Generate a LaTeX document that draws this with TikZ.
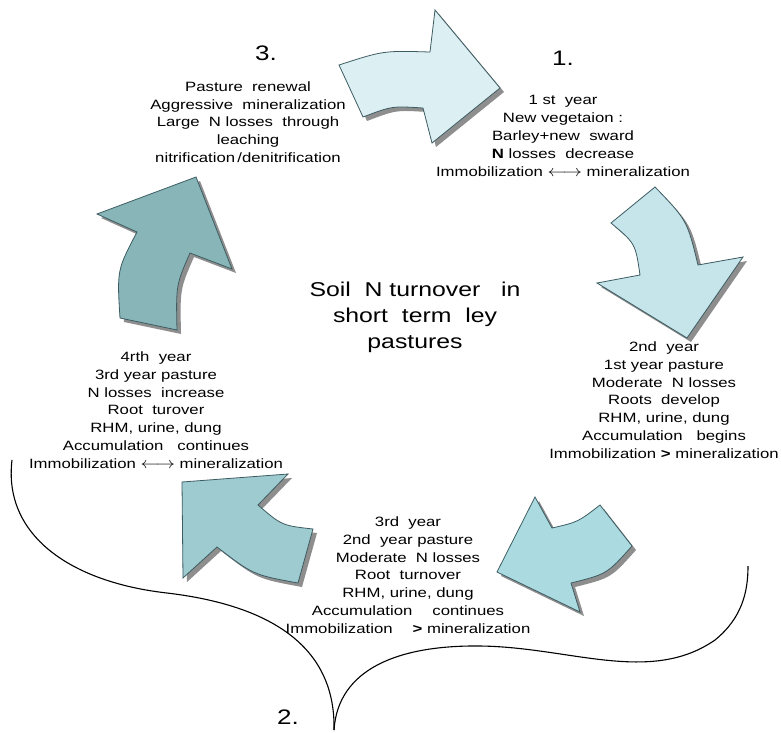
\documentclass[tikz,border=0pt]{standalone}
\usepackage{fontspec}
\setmainfont{Liberation Sans}[FakeStretch=1.24]
\usepackage{graphicx}
\newcommand{\lrarr}{\scalebox{1.3}[1.1]{$\longleftrightarrow$}}
\definecolor{arrline}{HTML}{3D5C62}
\definecolor{shadowgray}{HTML}{8E8E8E}
\definecolor{cA}{HTML}{DCEFF3}
\definecolor{cB}{HTML}{C6E5EA}
\definecolor{cC}{HTML}{ABDBE1}
\definecolor{cD}{HTML}{9DCBCF}
\definecolor{cE}{HTML}{88B6B8}
\def\Aone{(339,65) .. controls (383.4,50.6) .. (430,52) -- (435,10) -- (500,88) -- (432,143) -- (423,108) .. controls (392,106) .. (363,117) -- cycle}
\def\Atwo{(655,187) -- (611,223) .. controls (635.4,243.5) .. (640,275) -- (597,283) -- (687,338) -- (743,257) -- (698,265) .. controls (687,220.2) .. (655,187) -- cycle}
\def\Athree{(600,505) .. controls (578,522) .. (552,528) -- (535,497) -- (497,572) -- (580,612) -- (571,583) .. controls (607,574) .. (632,546) -- cycle}
\def\Afour{(182,482) -- (288,474) -- (258,505) .. controls (281.8,525.5) .. (313,529) -- (298,583) .. controls (253.2,574.8) .. (217,547) -- (183,578) -- cycle}
\def\Afive{(97,214) -- (196,177) -- (232,269) -- (190,253) .. controls (176,285) .. (177,330) -- (120,318) .. controls (117,270) .. (137,232) -- cycle}
\begin{document}
\begin{tikzpicture}[x=1pt,y=-1pt,
  arr/.style={draw=arrline,line width=0.8pt,line join=miter},
  shad/.style={fill=shadowgray,draw=none,shift={(4,4)}},
  txt/.style={align=center,inner sep=0pt,font=\fontsize{13.5}{17.8}\selectfont},
  ttl/.style={align=center,inner sep=0pt,font=\fontsize{20}{26}\selectfont},
  num/.style={inner sep=0pt,font=\fontsize{21}{25}\selectfont}]
\useasboundingbox (0,0) rectangle (781,732);
% shadows
\fill[shad] \Aone;
\fill[shad] \Atwo;
\fill[shad] \Athree;
\fill[shad] \Afour;
\fill[shad] \Afive;
% arrows
\filldraw[arr,fill=cA] \Aone;
\filldraw[arr,fill=cB] \Atwo;
\filldraw[arr,fill=cC] \Athree;
\filldraw[arr,fill=cD] \Afour;
\filldraw[arr,fill=cE] \Afive;
% big curve
\draw[line width=1.1pt] (12,460) .. controls (3,535) and (70,582) .. (167,593)
  .. controls (260,604) and (336,640) .. (334,730);
\draw[line width=1.1pt] (334,730) .. controls (338,668) and (400,645) .. (480,646)
  .. controls (570,647) and (650,685) .. (715,640)
  .. controls (742,618) and (748,592) .. (748,566);
% labels
\node[num] (n3) at (266,53) {3.};
\node[num] (n1) at (563,58) {1.};
\node[num] (n2) at (288,717) {2.};
\node[ttl] (title) at (415,317) {Soil\ \ N turnover\ \ \ in\\short\ \ term\ \ ley\\pastures};
\node[txt] (b3) at (248,122) {Pasture\ \ renewal\\Aggressive\ \ mineralization\\Large\ \ N losses\ \ through\\leaching\\nitrification\,/denitrification};
\node[txt] (b1) at (563,136) {1 st\ \ year\\New vegetaion :\\Barley+new\ \ sward\\\textbf{N} losses\ \ decrease\\Immobilization \lrarr{} mineralization};
\node[txt] (b2) at (664,400) {2nd\ \ year\\1st year pasture\\Moderate\ \ N losses\\Roots\ \ develop\\RHM, urine, dung\\Accumulation\hspace{14pt}begins\\Immobilization \textbf{>} mineralization};
\node[txt] (b4) at (408,575) {3rd\ \ year\\2nd\ \ year pasture\\Moderate\ \ N losses\\Root\ \ turnover\\RHM, urine, dung\\Accumulation\hspace{20pt}continues\\Immobilization\hspace{20pt}\textbf{>} mineralization};
\node[txt] (b5) at (156,410) {4rth\ \ year\\3rd year pasture\\N losses\ \ increase\\Root\ \ turover\\RHM, urine, dung\\Accumulation\hspace{14pt}continues\\Immobilization \lrarr{} mineralization};
\end{tikzpicture}
\end{document}
